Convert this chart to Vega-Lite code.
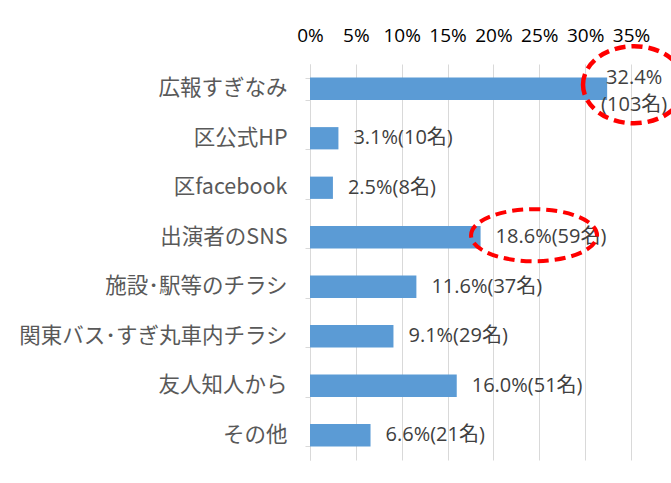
{
  "$schema": "https://vega.github.io/schema/vega-lite/v6.json",
  "width": 321,
  "height": 396,
  "autosize": {"type": "none"},
  "padding": {"left": 310, "top": 64, "right": 40, "bottom": 23},
  "background": "white",
  "config": {
    "view": {"stroke": null},
    "font": "Open Sans"
  },
  "data": {
    "values": [
      {"cat": "広報すぎなみ", "pct": 0.324, "n": 103},
      {"cat": "区公式HP", "pct": 0.031, "n": 10},
      {"cat": "区facebook", "pct": 0.025, "n": 8},
      {"cat": "出演者のSNS", "pct": 0.186, "n": 59},
      {"cat": "施設･駅等のチラシ", "pct": 0.116, "n": 37},
      {"cat": "関東バス･すぎ丸車内チラシ", "pct": 0.091, "n": 29},
      {"cat": "友人知人から", "pct": 0.16, "n": 51},
      {"cat": "その他", "pct": 0.066, "n": 21}
    ]
  },
  "encoding": {
    "y": {
      "field": "cat",
      "type": "nominal",
      "sort": null,
      "title": null,
      "scale": {"paddingInner": 0.55, "paddingOuter": 0.275},
      "axis": {
        "orient": "left",
        "domainColor": "#d9d9d9",
        "domainWidth": 1,
        "tickColor": "#d9d9d9",
        "tickSize": 5,
        "tickBand": "extent",
        "labelFont": "Noto Sans CJK JP",
        "labelFontSize": 21.5,
        "labelColor": "#595959",
        "labelPadding": 18,
        "labelLimit": 400
      }
    }
  },
  "layer": [
    {
      "mark": {"type": "bar", "color": "#5B9BD5"},
      "encoding": {
        "x": {
          "field": "pct",
          "type": "quantitative",
          "title": null,
          "scale": {"domain": [0, 0.35], "nice": false},
          "axis": {
            "orient": "top",
            "values": [0, 0.05, 0.1, 0.15, 0.2, 0.25, 0.3, 0.35],
            "format": ".0%",
            "grid": true,
            "gridColor": "#d9d9d9",
            "gridWidth": 1,
            "domain": false,
            "ticks": false,
            "labelFont": "Open Sans",
            "labelFontSize": 19,
            "labelColor": "#000000",
            "labelBaseline": "middle",
            "labelPadding": 29,
            "labelFlush": false,
            "labelOverlap": false
          }
        }
      }
    },
    {
      "transform": [
        {"filter": "datum.cat !== '広報すぎなみ'"},
        {"calculate": "format(datum.pct, '.1%') + '(' + datum.n + '名)'", "as": "label"}
      ],
      "mark": {
        "type": "text",
        "align": "left",
        "baseline": "middle",
        "dx": 15,
        "font": "Open Sans, Noto Sans CJK JP",
        "fontSize": 20,
        "color": "#404040"
      },
      "encoding": {
        "x": {"field": "pct", "type": "quantitative"},
        "text": {"field": "label"}
      }
    },
    {
      "transform": [
        {"filter": "datum.cat === '広報すぎなみ'"},
        {"calculate": "[format(datum.pct, '.1%'), '(' + datum.n + '名)']", "as": "label"}
      ],
      "mark": {
        "type": "text",
        "align": "center",
        "baseline": "middle",
        "dx": 27,
        "dy": -11,
        "lineHeight": 27,
        "font": "Open Sans, Noto Sans CJK JP",
        "fontSize": 20,
        "color": "#404040"
      },
      "encoding": {
        "x": {"field": "pct", "type": "quantitative"},
        "text": {"field": "label"}
      }
    },
    {
      "data": {"values": [{"cat": "広報すぎなみ", "cx": 0.3533}]},
      "mark": {
        "type": "point",
        "shape": "M-1,0A1,0.755,0,1,1,1,0A1,0.755,0,1,1,-1,0Z",
        "size": 10404,
        "filled": false,
        "stroke": "#ff0000",
        "strokeWidth": 4.5,
        "strokeDash": [11, 6],
        "opacity": 1,
        "yOffset": -4
      },
      "encoding": {
        "x": {"field": "cx", "type": "quantitative"},
        "y": {"field": "cat", "type": "nominal", "sort": null}
      }
    },
    {
      "data": {"values": [{"cat": "出演者のSNS", "cx": 0.2443}]},
      "mark": {
        "type": "point",
        "shape": "M-1,0A1,0.413,0,1,1,1,0A1,0.413,0,1,1,-1,0Z",
        "size": 15876,
        "filled": false,
        "stroke": "#ff0000",
        "strokeWidth": 4,
        "strokeDash": [11, 6],
        "opacity": 1,
        "yOffset": -2
      },
      "encoding": {
        "x": {"field": "cx", "type": "quantitative"},
        "y": {"field": "cat", "type": "nominal", "sort": null}
      }
    }
  ]
}
